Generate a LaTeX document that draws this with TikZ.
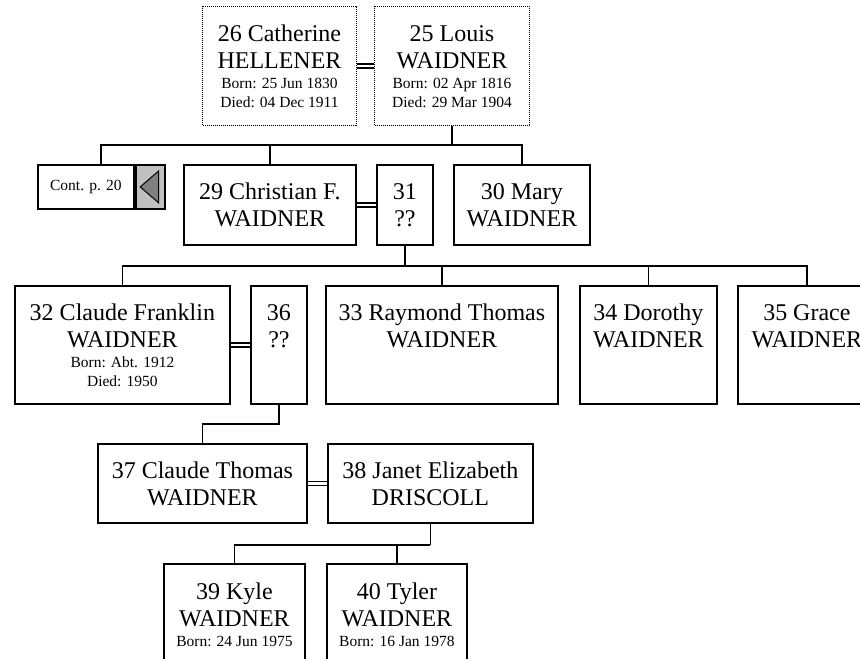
\documentclass[tikz,border=0pt]{standalone}
\usepackage{fontspec}
\setmainfont{Liberation Serif}
\usetikzlibrary{positioning,calc}
\definecolor{contgray}{RGB}{192,192,192}
\definecolor{arrowgray}{RGB}{128,128,128}
\newcommand{\namefont}{\fontsize{24}{27}\selectfont}
\newcommand{\datefont}{\fontsize{15.5}{19}\selectfont}

\begin{document}
\begin{tikzpicture}[x=1pt, y=-1pt,
  person/.style={draw, line width=1.8pt, inner sep=0pt, anchor=north west, align=center, font=\namefont},
  ancestor/.style={person, line width=1pt, densely dotted},
  twolines/.style={text height=62pt},
  threelines/.style={text height=82.5pt},
  fourlines/.style={text height=101pt},
  contbox/.style={draw, line width=1.8pt, inner sep=0pt, minimum height=44pt},
  link/.style={line width=1.8pt},
  marriage/.style={double, line width=1.2pt, double distance=2.8pt}
]
\useasboundingbox (0,0) rectangle (860,659);
\clip (0,0) rectangle (860,659);

% parents
\node[ancestor, fourlines, minimum width=154pt, text depth=18pt] (p26) at (202,6) {26 Catherine\\HELLENER\\[-7pt]{\datefont Born: 25 Jun 1830}\\[-8pt]{\datefont Died: 04 Dec 1911}};
\node[ancestor, fourlines, minimum width=155pt, text depth=18pt] (p25) at (374,6) {25 Louis\\WAIDNER\\[-7pt]{\datefont Born: 02 Apr 1816}\\[-8pt]{\datefont Died: 29 Mar 1904}};

% children
\node[contbox, anchor=north west, minimum width=96pt, font=\datefont] (cont) at (37,164) {Cont. p. 20};
\node[contbox, fill=contgray, minimum width=29pt, right=0pt of cont] (contarrow) {};
\draw[line width=1pt, fill=arrowgray] ($(contarrow.center)+(-10,0)$) -- ($(contarrow.center)+(8.5,-16)$) -- ($(contarrow.center)+(8.5,16)$) -- cycle;
\node[person, twolines, minimum width=172pt, text depth=18pt] (p29) at (183,164) {29 Christian F.\\WAIDNER};
\node[person, twolines, minimum width=56pt, text depth=18pt] (p31) at (376,164) {31\\??};
\node[person, twolines, minimum width=136pt, text depth=18pt] (p30) at (453,164) {30 Mary\\WAIDNER};

% grandchildren
\node[person, fourlines, minimum width=215pt, text depth=17pt] (p32) at (14,285) {32 Claude Franklin\\WAIDNER\\[-7pt]{\datefont Born: Abt. 1912}\\[-8pt]{\datefont Died: 1950}};
\node[person, twolines, minimum width=56pt, text depth=56pt] (p36) at (250,285) {36\\??};
\node[person, twolines, minimum width=232pt, text depth=56pt] (p33) at (325,285) {33 Raymond Thomas\\WAIDNER};
\node[person, twolines, minimum width=137pt, text depth=56pt] (p34) at (579,285) {34 Dorothy\\WAIDNER};
\node[person, twolines, minimum width=138pt, text depth=56pt] (p35) at (737,285) {35 Grace\\WAIDNER};

\node[person, twolines, minimum width=209pt, text depth=17pt] (p37) at (97,443) {37 Claude Thomas\\WAIDNER};
\node[person, twolines, minimum width=205pt, text depth=17pt] (p38) at (327,443) {38 Janet Elizabeth\\DRISCOLL};

\node[person, threelines, minimum width=141pt, text depth=27.5pt] (p39) at (163,563) {39 Kyle\\WAIDNER\\[-7pt]{\datefont Born: 24 Jun 1975}};
\node[person, threelines, minimum width=140pt, text depth=27.5pt] (p40) at (326,563) {40 Tyler\\WAIDNER\\[-7pt]{\datefont Born: 16 Jan 1978}};

% marriages
\draw[marriage] (p26.east) -- (p25.west);
\draw[marriage] (p29.east) -- (p31.west);
\draw[marriage] (p32.east) -- (p36.west);
\draw[marriage] (p37.east) -- (p38.west);

% descent lines
\coordinate (contmid) at ($(cont.north west)!0.5!(contarrow.north east)$);
\draw[link] (p25.south) -- ++(0,19) coordinate (bar1);
\draw[link] (contmid) |- (p30.north |- bar1) -- (p30.north);
\draw[link] (p29.north) -- (p29.north |- bar1);

\draw[link] (p31.south) -- ++(0,20) coordinate (bar2);
\draw[link] (p32.north) |- (p35.north |- bar2) -- (p35.north);
\draw[link] (p33.north) -- (p33.north |- bar2);
\draw[link] (p34.north) -- (p34.north |- bar2);

\draw[link] (p36.south) -- ++(0,19) -| (p37.north);

\draw[link] (p38.south) -- ++(0,21) coordinate (bar3);
\draw[link] (p39.north) |- (bar3);
\draw[link] (p40.north) -- (p40.north |- bar3);
\end{tikzpicture}
\end{document}
